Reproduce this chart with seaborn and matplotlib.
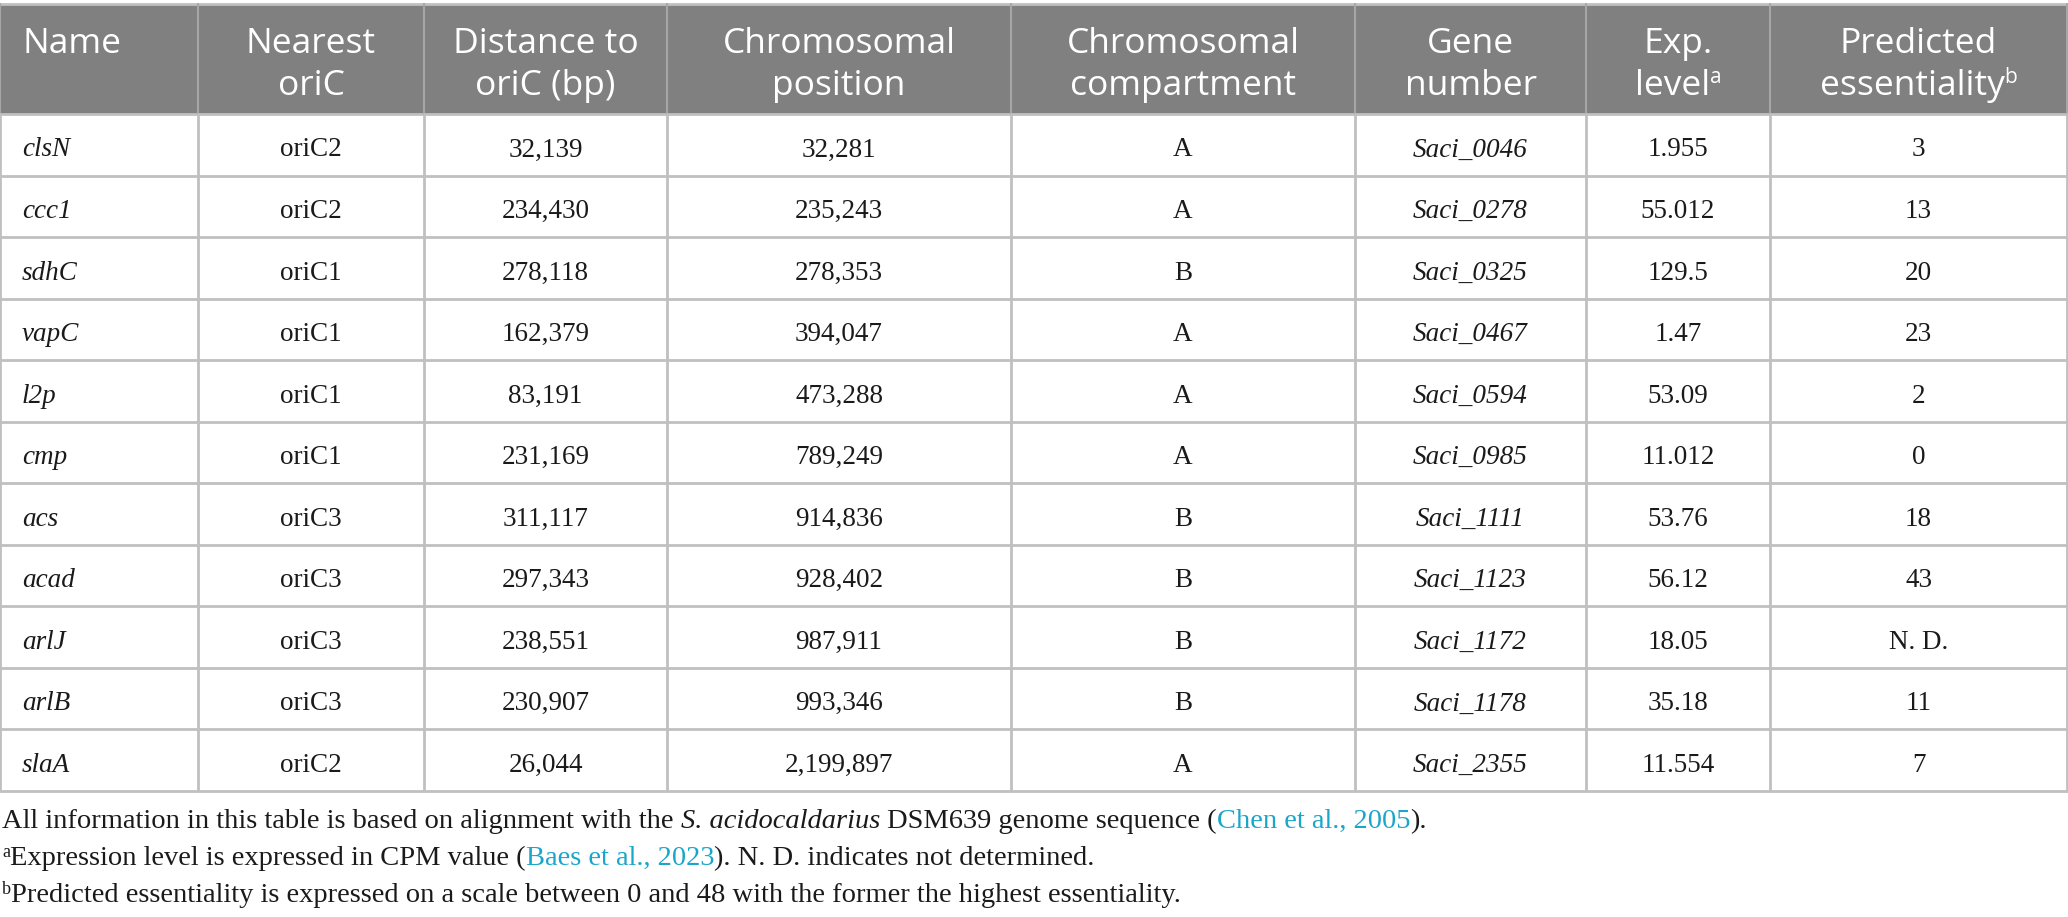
import numpy as np
import pandas as pd
import matplotlib
matplotlib.use("Agg")
import matplotlib.pyplot as plt
import seaborn as sns

# table content
names = ["clsN", "ccc1", "sdhC", "vapC", "l2p", "cmp", "acs", "acad", "arlJ", "arlB", "slaA"]
nearest_oric = ["oriC2", "oriC2", "oriC1", "oriC1", "oriC1", "oriC1", "oriC3", "oriC3", "oriC3", "oriC3", "oriC2"]
distance_bp = [32139, 234430, 278118, 162379, 83191, 231169, 311117, 297343, 238551, 230907, 26044]
chrom_position = [32281, 235243, 278353, 394047, 473288, 789249, 914836, 928402, 987911, 993346, 2199897]
compartment = ["A", "A", "B", "A", "A", "A", "B", "B", "B", "B", "A"]
gene_number = ["Saci_0046", "Saci_0278", "Saci_0325", "Saci_0467", "Saci_0594", "Saci_0985",
               "Saci_1111", "Saci_1123", "Saci_1172", "Saci_1178", "Saci_2355"]
exp_level = [1.955, 55.012, 129.5, 1.47, 53.09, 11.012, 53.76, 56.12, 18.05, 35.18, 11.554]
essentiality = [3, 13, 20, 23, 2, 0, 18, 43, None, 11, 7]

header_lines = [["Name"], ["Nearest", "oriC"], ["Distance to", "oriC (bp)"], ["Chromosomal", "position"],
                ["Chromosomal", "compartment"], ["Gene", "number"], ["Exp.", "level"], ["Predicted", "essentiality"]]
header_marks = ["", "", "", "", "", "", "a", "b"]

df = pd.DataFrame({
    "name": names,
    "oric": nearest_oric,
    "dist": [f"{v:,}" for v in distance_bp],
    "pos": [f"{v:,}" for v in chrom_position],
    "comp": compartment,
    "gene": gene_number,
    "exp": [str(v) for v in exp_level],
    "ess": ["N. D." if v is None else str(v) for v in essentiality],
})
italic_cols = {"name", "gene"}

sns.set_theme(style="white")
serif = ["Liberation Serif", "DejaVu Serif"]
sans = ["Open Sans", "DejaVu Sans"]

W, H = 2068, 917
fig = plt.figure(figsize=(W / 100, H / 100), dpi=100)
ax = fig.add_axes([0, 0, 1, 1])
ax.set_xlim(0, W)
ax.set_ylim(H, 0)
ax.axis("off")

col_w = [198, 226, 243, 344, 344, 231, 184, 298]
col_x = np.concatenate([[0], np.cumsum(col_w)])
col_x[-1] = W - 1
head_top, head_bot = 4, 114
row_h = (791 - head_bot) / len(df)
line_col = "#c0c0c0"
head_bg = "#808080"
link_col = "#1aa6c9"
ink = "#1a1a1a"

renderer = fig.canvas.get_renderer()


def text_width(s, **kw):
    t = ax.text(0, 0, s, **kw)
    w = t.get_window_extent(renderer).width
    t.remove()
    return w


def draw_runs(x, y, runs, ha="left"):
    # runs: (text, props, raise_px)
    pieces = []
    total = 0
    for s, props, lift in runs:
        lead = len(s) - len(s.lstrip(" "))
        trail = len(s) - len(s.rstrip(" "))
        sp = text_width("x x", **props) - text_width("xx", **props)
        core = s.strip(" ")
        w = text_width(core, **props) if core else 0
        pieces.append((core, props, lift, total + lead * sp))
        total += lead * sp + w + trail * sp
    x0 = x - total / 2 if ha == "center" else x
    for core, props, lift, off in pieces:
        if core:
            ax.text(x0 + off, y - lift, core, va="baseline", ha="left", **props)


# header
ax.add_patch(plt.Rectangle((0, head_top), W, head_bot - head_top, color=head_bg, lw=0, zorder=0))
ax.plot([0, W], [head_top, head_top], color=line_col, lw=2)
for i, lines in enumerate(header_lines):
    left = i == 0
    xc = col_x[i] + 22 if left else (col_x[i] + col_x[i + 1]) / 2
    for j, ln in enumerate(lines):
        hp = dict(family=sans, fontsize=25.5, color="white")
        runs = [(ln, hp, 0)]
        if j == len(lines) - 1 and header_marks[i]:
            runs.append((header_marks[i], dict(family=sans, fontsize=15, color="white"), 12))
        draw_runs(xc, 53 + 42 * j, runs, ha="left" if left else "center")

# body
for r, row in enumerate(df.itertuples(index=False)):
    top = head_bot + r * row_h
    for c, val in enumerate(row):
        style = "italic" if df.columns[c] in italic_cols else "normal"
        if c == 0:
            ax.text(col_x[c] + 22, top + 0.69 * row_h, val, family=serif, style=style,
                    fontsize=19.5, color=ink, ha="left", va="baseline")
        else:
            ax.text((col_x[c] + col_x[c + 1]) / 2, top + 0.69 * row_h, val, family=serif, style=style,
                    fontsize=19.5, color=ink, ha="center", va="baseline")

# grid lines
for r in range(len(df) + 1):
    y = head_bot + r * row_h
    ax.plot([0, W], [y, y], color=line_col, lw=2)
for c, x in enumerate(col_x):
    ax.plot([x, x], [head_top, head_bot], color="#a6a6a6", lw=1.5)
    ax.plot([x, x], [head_bot, 791], color=line_col, lw=2)

# footnotes
fn = dict(family=serif, fontsize=20.5, color=ink)
fn_it = dict(fn, style="italic")
fn_link = dict(fn, color=link_col)
fn_sup = dict(family=serif, fontsize=13, color=ink)
draw_runs(2, 828, [("All information in this table is based on alignment with the ", fn, 0),
                   ("S. acidocaldarius", fn_it, 0),
                   (" DSM639 genome sequence (", fn, 0),
                   ("Chen et al., 2005", fn_link, 0),
                   (").", fn, 0)])
draw_runs(2, 865, [("a", fn_sup, 8),
                   ("Expression level is expressed in CPM value (", fn, 0),
                   ("Baes et al., 2023", fn_link, 0),
                   ("). N. D. indicates not determined.", fn, 0)])
draw_runs(2, 902, [("b", fn_sup, 8),
                   ("Predicted essentiality is expressed on a scale between 0 and 48 with the former the highest essentiality.", fn, 0)])

fig.savefig("out.png", dpi=100)
